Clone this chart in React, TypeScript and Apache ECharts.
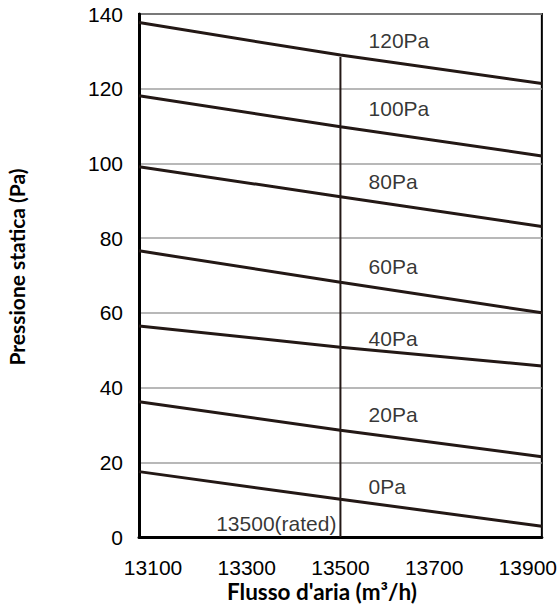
import React, { useEffect, useRef } from "react";
import * as echarts from "echarts";

const xPoints = [13070, 13500, 13930];
const curveNames = ["0Pa", "20Pa", "40Pa", "60Pa", "80Pa", "100Pa", "120Pa"];
const curveValues = [
  [17.5, 10.1, 2.9],
  [36.2, 28.6, 21.5],
  [56.5, 50.8, 45.8],
  [76.6, 68.2, 60.0],
  [99.1, 91.1, 83.1],
  [118.1, 109.8, 102.0],
  [137.7, 129.0, 121.4],
];
const labelX = 13560;
const labelY = [13.5, 32.7, 53.2, 72.4, 95.1, 114.7, 133.0];
const xTicks = [13100, 13300, 13500, 13700, 13900];
const ratedFlow = 13500;
const ratedTop = 128.5;
const ratedLabel = "13500(rated)";
const ratedLabelY = 3.7;

const ink = "#231815";
const textFont = "Liberation Sans, Arial, sans-serif";

export default function App() {
  const ref = useRef<HTMLDivElement>(null);
  useEffect(() => {
    if (!ref.current) return;
    const chart = echarts.init(ref.current, null, { renderer: "svg" });
    const curveSeries = curveValues.map((vals, i) => ({
      type: "line",
      name: curveNames[i],
      data: vals.map((v, j) => [xPoints[j], v]),
      symbol: "none",
      lineStyle: { color: ink, width: 3 },
      z: 3,
    }));
    chart.setOption({
      animation: false,
      grid: {
        left: 139,
        right: 18,
        top: 14,
        bottom: 73,
        show: true,
        borderColor: "#000",
        borderWidth: 2,
      },
      xAxis: {
        type: "value",
        min: 13070,
        max: 13930,
        axisLine: { show: true, lineStyle: { color: "#000", width: 3 } },
        axisTick: { show: false },
        splitLine: { show: false },
        axisLabel: {
          customValues: xTicks,
          formatter: (v: number) => String(v),
          margin: 21,
          fontSize: 21,
          lineHeight: 18,
          fontFamily: textFont,
          color: "#000",
        },
      },
      yAxis: {
        type: "value",
        min: 0,
        max: 140,
        interval: 20,
        axisLine: { show: true, lineStyle: { color: "#000", width: 3 } },
        axisTick: { show: false },
        splitLine: { show: true, lineStyle: { color: "#a0a0a0", width: 1.5 } },
        axisLabel: {
          margin: 16,
          fontSize: 21,
          fontFamily: textFont,
          color: "#000",
        },
      },
      series: [
        ...curveSeries,
        {
          type: "line",
          data: [
            [ratedFlow, 0],
            [ratedFlow, ratedTop],
          ],
          symbol: "none",
          lineStyle: { color: ink, width: 2 },
          z: 2,
        },
        {
          type: "scatter",
          symbolSize: 0,
          data: labelY.map((y, i) => ({ value: [labelX, y], name: curveNames[i] })),
          label: {
            show: true,
            position: "right",
            distance: 0,
            formatter: (p: any) => p.name,
            fontSize: 21,
            fontFamily: textFont,
            color: "#000",
          },
          z: 4,
        },
        {
          type: "scatter",
          symbolSize: 0,
          data: [{ value: [ratedFlow, ratedLabelY], name: ratedLabel }],
          label: {
            show: true,
            position: "left",
            distance: 4,
            formatter: (p: any) => p.name,
            fontSize: 21,
            fontFamily: textFont,
            color: "#000",
          },
          z: 4,
        },
      ],
      graphic: [
        {
          type: "text",
          x: 322,
          y: 591,
          style: {
            text: "Flusso d'aria (m³/h)",
            fontFamily: "Lato, sans-serif",
            fontWeight: "bold",
            fontSize: 22.5,
            lineHeight: 20,
            fill: "#000",
            align: "center",
            verticalAlign: "middle",
          },
        },
        {
          type: "text",
          x: 16,
          y: 267,
          rotation: Math.PI / 2,
          style: {
            text: "Pressione statica (Pa)",
            fontFamily: "Lato, sans-serif",
            fontWeight: "bold",
            fontSize: 21,
            fill: "#000",
            align: "center",
            verticalAlign: "middle",
          },
        },
      ],
    });
    return () => chart.dispose();
  }, []);
  return (
    <div
      ref={ref}
      style={{ position: "absolute", left: 0, top: 0, width: 560, height: 610 }}
    />
  );
}
